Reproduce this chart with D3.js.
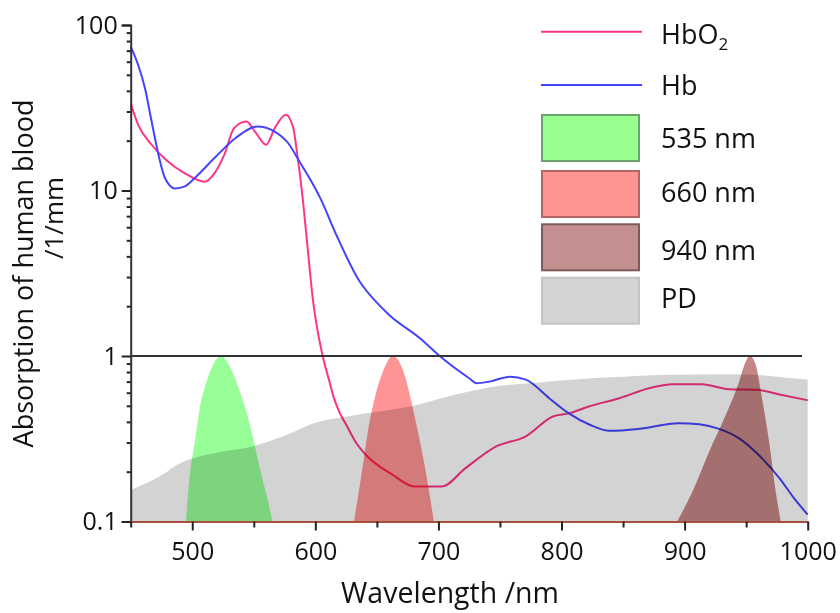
<!DOCTYPE html>
<html>
<head>
<meta charset="utf-8">
<script src="https://cdn.jsdelivr.net/npm/d3@7"></script>
<style>
  html, body { margin: 0; padding: 0; background: #fff; }
  svg { display: block; font-family: 'Open Sans', sans-serif; }
</style>
</head>
<body>
<svg id="chart" width="840" height="613"></svg>
<script>
// ---- data (wavelength nm, value 1/mm) ----
const hbo2 = [[450,33.7],[456,25],[467,18.9],[480,15],[494,12.7],[510,11.3],[518,12.7],[526,16.4],[534,23.8],[544,26.1],[551,22.7],[560,18.9],[567,23.8],[576,28.7],[582,24],[585,17.2],[590,8.6],[594,4.3],[598,2.2],[602,1.4],[606,1.0],[611,0.72],[615,0.56],[620,0.45],[625,0.385],[633,0.3],[641,0.253],[663,0.191],[680,0.163],[703,0.163],[722,0.21],[747,0.284],[771,0.327],[793,0.431],[806,0.45],[822,0.495],[847,0.556],[871,0.639],[890,0.676],[914,0.676],[936,0.63],[958,0.625],[979,0.582],[1000,0.54]];
const hb = [[450,74],[456,57.5],[461.6,41.5],[467,26.1],[472.6,16.4],[477.8,11.9],[486,10.3],[494,10.6],[502,11.9],[518,15.7],[535,20.7],[553,24.4],[567,22.7],[578,19.3],[587,15],[596,11.6],[604,9.0],[617,5.4],[636,2.82],[650,2.1],[660,1.77],[685,1.28],[701,1.0],[725,0.734],[731,0.685],[741.5,0.70],[758,0.75],[771,0.72],[790,0.556],[806,0.45],[823,0.384],[839,0.353],[863,0.363],[895,0.393],[912,0.387],[928,0.363],[944,0.319],[960,0.253],[977,0.183],[989,0.138],[1000,0.11]];
const pd = [[450,0.155],[475,0.19],[490,0.225],[500,0.24],[525,0.265],[545,0.28],[575,0.33],[600,0.395],[625,0.43],[650,0.46],[680,0.5],[700,0.55],[725,0.61],[750,0.66],[780,0.69],[810,0.72],[830,0.74],[850,0.75],[890,0.77],[945,0.776],[975,0.75],[1000,0.72]];
const band535 = [[494.9,0.1],[498,0.19],[502,0.30],[506,0.48],[511.6,0.70],[517,0.885],[523.3,1.0],[530.5,0.864],[538.7,0.61],[546.8,0.384],[554.9,0.21],[561.6,0.132],[565.2,0.1]];
const band660 = [[631.4,0.1],[638.7,0.22],[642.7,0.35],[648.2,0.556],[654.9,0.806],[663,1.0],[672.5,0.77],[678,0.531],[683.3,0.35],[688.7,0.22],[696.3,0.1]];
const band940 = [[894,0.1],[906.4,0.152],[920,0.265],[933.5,0.441],[944.3,0.70],[949.7,0.926],[953,1.0],[957.8,0.885],[961.9,0.61],[968.6,0.304],[974,0.152],[978.1,0.1]];
const xTicks = [500,600,700,800,900,1000];
const xMinorTicks = [450,550,650,750,850,950];
const yTicks = [0.1,1,10,100];
const yTickLabels = ["0.1","1","10","100"];
const legendItems = [
  {type:"line", label:"HbO", sub:"2", color:"#ff3388"},
  {type:"line", label:"Hb", color:"#4444ff"},
  {type:"box", label:"535 nm", fill:"#98ff8e", stroke:"#6aa46a"},
  {type:"box", label:"660 nm", fill:"#ff9591", stroke:"#b46464"},
  {type:"box", label:"940 nm", fill:"#c48f8f", stroke:"#7e5a5a"},
  {type:"box", label:"PD", fill:"#d3d3d3", stroke:"#c4c4c4"}
];

const svg = d3.select("#chart");
const x = d3.scaleLinear().domain([450,1000]).range([130.7,807.7]);
const y = d3.scaleLog().domain([0.1,100]).range([521.5,25]);

const line = d3.line().x(d=>x(d[0])).y(d=>y(d[1])).curve(d3.curveMonotoneX);
const area = d3.area().x(d=>x(d[0])).y0(y(0.1)).y1(d=>y(d[1])).curve(d3.curveMonotoneX);

const plot = svg.append("g");

// curves
plot.append("path").datum(hbo2).attr("d", line).attr("fill","none").attr("stroke","#ff3388").attr("stroke-width",2);
plot.append("path").datum(hb).attr("d", line).attr("fill","none").attr("stroke","#4444ff").attr("stroke-width",2);

// PD area
plot.append("path").datum(pd).attr("d", area).attr("fill","#d3d3d3").style("mix-blend-mode","multiply");
// LED bands
plot.append("path").datum(band535).attr("d", area).attr("fill","#98ff98").style("mix-blend-mode","multiply");
plot.append("path").datum(band660).attr("d", area).attr("fill","#ff9494").style("mix-blend-mode","multiply");
plot.append("path").datum(band940).attr("d", area).attr("fill","#c68686").style("mix-blend-mode","multiply");

// horizontal line at 1
plot.append("line").attr("x1", x(450)).attr("x2", 802).attr("y1", y(1)).attr("y2", y(1))
  .attr("stroke","#333").attr("stroke-width",2);

// y axis
const yAxis = svg.append("g").attr("transform",`translate(${x(450)},0)`)
  .call(d3.axisLeft(y).tickValues(yTicks).tickSize(9).tickFormat((d,i)=>yTickLabels[i]));
const yMinor = [];
for (const dec of [0.1,1,10]) for (const m of [2,3,4,5,6,7,8,9]) yMinor.push(+(dec*m).toPrecision(3));
svg.append("g").attr("transform",`translate(${x(450)},0)`)
  .call(d3.axisLeft(y).tickValues(yMinor).tickSize(4).tickFormat(""))
  .call(g=>g.select(".domain").remove());

// x axis
const xAxis = svg.append("g").attr("transform",`translate(0,${y(0.1)})`)
  .call(d3.axisBottom(x).tickValues(xTicks).tickSize(9).tickSizeOuter(0).tickPadding(12).tickFormat(d3.format("d")));
xAxis.select(".domain").attr("stroke","#a8503e").attr("stroke-width",2);
svg.append("g").attr("transform",`translate(0,${y(0.1)})`)
  .call(d3.axisBottom(x).tickValues(xMinorTicks).tickSize(6).tickFormat(""))
  .call(g=>g.select(".domain").remove());

svg.selectAll(".tick line").attr("stroke","#222").attr("stroke-width",2);
yAxis.select(".domain").attr("stroke","#333").attr("stroke-width",2);
svg.selectAll(".tick text").attr("font-family","'Open Sans', sans-serif").attr("font-size",25).attr("fill","#111");
yAxis.selectAll(".tick text").attr("x",-13);

// axis titles
svg.append("text").attr("x",450).attr("y",603).attr("text-anchor","middle")
  .attr("font-size",28.5).attr("fill","#111").text("Wavelength /nm");
svg.append("text").attr("transform","translate(33,273.5) rotate(-90)").attr("text-anchor","middle")
  .attr("font-size",27).attr("fill","#111").text("Absorption of human blood");
svg.append("text").attr("transform","translate(63,218) rotate(-90)").attr("text-anchor","middle")
  .attr("font-size",26).attr("fill","#111").text("/1/mm");

// legend
const legY = [31.7, 85, 114, 170, 223.3, 276.7];
const textBase = [44, 95, 148.3, 202.3, 260, 308.3];
const lg = svg.append("g");
legendItems.forEach((it,i)=>{
  if (it.type==="line") {
    lg.append("line").attr("x1",541).attr("x2",642).attr("y1",legY[i]).attr("y2",legY[i])
      .attr("stroke",it.color).attr("stroke-width",2);
  } else {
    lg.append("rect").attr("x",542).attr("y",legY[i]+1).attr("width",97).attr("height",46)
      .attr("fill",it.fill).attr("stroke",it.stroke).attr("stroke-width",2);
  }
  const t = lg.append("text").attr("x",661).attr("y",textBase[i]).attr("font-size",27).attr("fill","#111");
  t.append("tspan").text(it.label);
  if (it.sub) t.append("tspan").attr("font-size",17).attr("dy",6).text(it.sub);
});
</script>
</body>
</html>
